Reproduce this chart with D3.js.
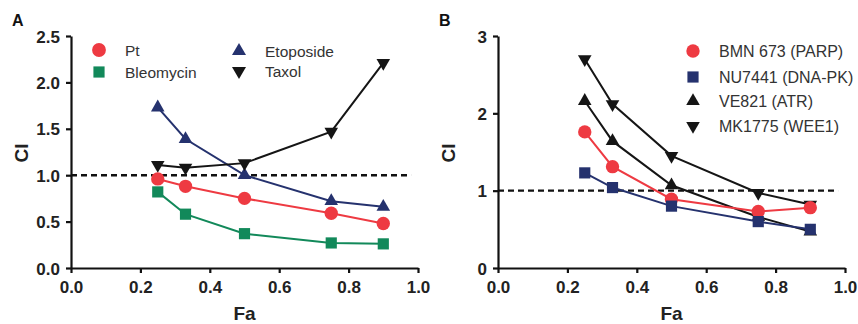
<!DOCTYPE html>
<html>
<head>
<meta charset="utf-8">
<script src="https://cdn.jsdelivr.net/npm/d3@7"></script>
<style>
  body { margin: 0; background: #fff; }
  svg { font-family: "Liberation Sans", Arial, sans-serif; }
  .tick text { font-family: "Liberation Sans", Arial, sans-serif; font-weight: bold; font-size: 17px; fill: #222; }
  .domain, .tick line { stroke: #111; stroke-width: 2.2px; }
</style>
</head>
<body>
<svg id="chart" width="858" height="324"></svg>
<script>
// Fa values shared by both panels
const fa = [0.25, 0.33, 0.5, 0.75, 0.9];

// panel A
const ptCI = [0.96, 0.88, 0.75, 0.59, 0.48];
const bleoCI = [0.82, 0.58, 0.37, 0.27, 0.26];
const etopCI = [1.73, 1.39, 1.0, 0.72, 0.66];
const taxolCI = [1.11, 1.08, 1.13, 1.47, 2.21];

// panel B
const bmnCI = [1.76, 1.31, 0.89, 0.73, 0.78];
const nuCI = [1.23, 1.04, 0.80, 0.60, 0.50];
const veCI = [2.16, 1.64, 1.07, 0.66, 0.47];
const mkCI = [2.70, 2.12, 1.45, 0.97, 0.82];

const xTicks = [0, 0.2, 0.4, 0.6, 0.8, 1.0];
const yTicksA = [0, 0.5, 1.0, 1.5, 2.0, 2.5];
const yTicksB = [0, 1, 2, 3];

const red = "#ee3a42", green = "#12895a", navy = "#25326e", black = "#151515";

const svg = d3.select("#chart");

function symbolPath(kind, s) {
  if (kind === "circle") return d3.symbol(d3.symbolCircle, s.circle)();
  if (kind === "square") return d3.symbol(d3.symbolSquare, s.square)();
  return d3.symbol(d3.symbolTriangle, s.tri)();
}
const rot = k => k === "down" ? " rotate(180)" : "";

function panel(opt) {
  const x = d3.scaleLinear().domain([0, 1]).range([opt.left, opt.left + 347]);
  const y = d3.scaleLinear().domain([0, opt.ymax]).range([268, 36]);
  const g = svg.append("g");

  g.append("g").attr("transform", "translate(0,268)")
    .call(d3.axisBottom(x).tickValues(xTicks).tickFormat(d3.format(".1f"))
      .tickSize(5).tickPadding(8).tickSizeOuter(0));
  g.append("g").attr("transform", `translate(${opt.left},0)`)
    .call(d3.axisLeft(y).tickValues(opt.yTicks).tickFormat(opt.yFmt)
      .tickSize(5).tickPadding(6).tickSizeOuter(0))
    .selectAll("text").attr("dy", "0.36em");

  // CI = 1 reference
  g.append("line")
    .attr("x1", x(0)).attr("x2", x(0.98))
    .attr("y1", y(1)).attr("y2", y(1))
    .attr("stroke", "#111").attr("stroke-width", 2.4).attr("stroke-dasharray", "6,4");

  const size = { circle: 140, square: 125, tri: 80 };
  opt.series.forEach(s => {
    const pts = fa.map((f, i) => [x(f), y(s.values[i])]);
    g.append("path").attr("d", d3.line()(pts))
      .attr("fill", "none").attr("stroke", s.color).attr("stroke-width", 2);
    g.selectAll(null).data(pts).join("path")
      .attr("d", symbolPath(s.shape, size))
      .attr("transform", p => `translate(${p[0]},${p[1]})` + rot(s.shape))
      .attr("fill", s.color);
  });

  // legend
  const lsize = opt.legendSize;
  opt.series.forEach(s => {
    g.append("path").attr("d", symbolPath(s.shape, lsize))
      .attr("transform", `translate(${s.lx},${s.ly})` + rot(s.shape))
      .attr("fill", s.color);
    g.append("text").attr("x", s.lx + opt.textGap).attr("y", s.ly).attr("dy", "0.36em")
      .attr("font-size", opt.legendFont).attr("fill", "#333").text(s.name);
  });

  g.append("text").attr("x", (x(0) + x(1)) / 2).attr("y", 320)
    .attr("text-anchor", "middle").attr("font-weight", "bold").attr("font-size", 19)
    .attr("fill", "#222").text("Fa");
  g.append("text").attr("transform", `translate(${opt.left - 50},153) rotate(-90)`)
    .attr("text-anchor", "middle").attr("dy", "0.36em").attr("font-weight", "bold").attr("font-size", 19)
    .attr("fill", "#222").text("CI");
  g.append("text").attr("x", opt.left - 59).attr("y", 26)
    .attr("font-weight", "bold").attr("font-size", 16).attr("fill", "#111").text(opt.letter);
}

panel({
  left: 71, ymax: 2.5, yTicks: yTicksA, yFmt: d3.format(".1f"), letter: "A",
  textGap: 26, legendFont: 15.5, legendSize: { circle: 150, square: 125, tri: 85 },
  series: [
    { name: "Etoposide", values: etopCI, color: navy, shape: "up", lx: 239, ly: 51 },
    { name: "Taxol", values: taxolCI, color: black, shape: "down", lx: 239, ly: 71 },
    { name: "Bleomycin", values: bleoCI, color: green, shape: "square", lx: 99, ly: 72 },
    { name: "Pt", values: ptCI, color: red, shape: "circle", lx: 99, ly: 50 }
  ]
});

panel({
  left: 498, ymax: 3, yTicks: yTicksB, yFmt: d3.format("d"), letter: "B",
  textGap: 26, legendFont: 16, legendSize: { circle: 140, square: 125, tri: 80 },
  series: [
    { name: "MK1775 (WEE1)", values: mkCI, color: black, shape: "down", lx: 693, ly: 126 },
    { name: "VE821 (ATR)", values: veCI, color: black, shape: "up", lx: 693, ly: 101 },
    { name: "BMN 673 (PARP)", values: bmnCI, color: red, shape: "circle", lx: 693, ly: 51 },
    { name: "NU7441 (DNA-PK)", values: nuCI, color: navy, shape: "square", lx: 693, ly: 77 }
  ]
});
</script>
</body>
</html>
